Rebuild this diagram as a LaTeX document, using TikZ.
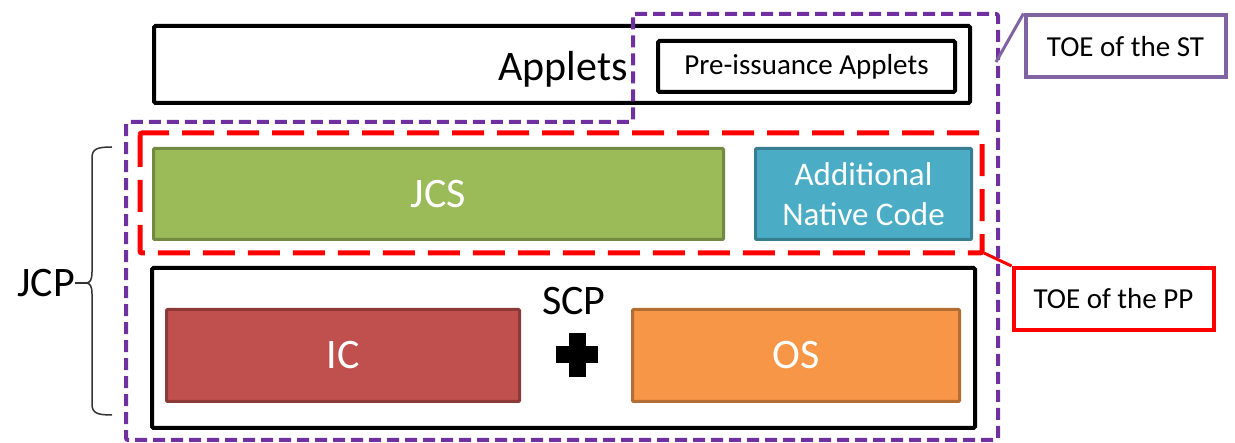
\documentclass[tikz,border=0pt]{standalone}
\usepackage{fontspec}
\setmainfont{Carlito}
\usepackage{tikz}
\usetikzlibrary{positioning}

\definecolor{stpurple}{HTML}{7030A0}
\definecolor{calpurple}{HTML}{8064A2}
\definecolor{jcsgreen}{HTML}{9BBB59}
\definecolor{ancblue}{HTML}{4BACC6}
\definecolor{icred}{HTML}{C0504D}
\definecolor{osorange}{HTML}{F79646}

\newcommand{\fntL}{\fontsize{42}{50}\selectfont}
\newcommand{\fntM}{\fontsize{33}{40}\selectfont}
\newcommand{\fntS}{\fontsize{29}{34}\selectfont}

\tikzset{
	layer/.style={draw=black, line width=4pt, rounded corners=1.5pt, inner sep=0pt},
	comp/.style={draw=#1!73!black, fill=#1, line width=3pt, rounded corners=1pt, inner sep=0pt, text=white, font=\fntL},
	toe/.style={draw=#1, line width=4pt, inner sep=0pt, minimum width=200pt, minimum height=62pt, font=\fntS},
	stline/.style={draw=stpurple, line width=4pt, dash pattern=on 12pt off 6pt, rounded corners=2pt},
	ppline/.style={draw=red, line width=5pt, dash pattern=on 32pt off 13pt, rounded corners=2pt},
}

\begin{document}
\begin{tikzpicture}[x=1pt, y=-1pt]
	\useasboundingbox (0,0) rectangle (1235,443);

	% applets layer
	\node[layer, minimum width=816pt, minimum height=77pt] (applets) at (562,64.5) {};
	\node[layer, minimum width=297pt, minimum height=51pt, font=\fntS] (pre) at (806.5,66.5) {Pre-issuance Applets};
	\node[anchor=east, font=\fntL, inner sep=0pt] (appl) at (628,69) {Applets};

	% JCS and native code
	\node[comp=jcsgreen, minimum width=570pt, minimum height=91pt] (jcs) at (438.5,194) {JCS};
	\node[comp=ancblue, minimum width=216pt, minimum height=91pt, right=29pt of jcs, font=\fntM, align=center] (anc) {Additional\\Native Code};

	% SCP
	\node[layer, minimum width=823pt, minimum height=160pt] (scp) at (563.5,348) {};
	\node[font=\fntL, inner sep=0pt] (scpl) at (574,301) {SCP};
	\node[comp=icred, minimum width=353pt, minimum height=92pt] (ic) at (343,355.5) {IC};
	\node[comp=osorange, minimum width=327pt, minimum height=92pt, right=110pt of ic] (os) {OS};
	\coordinate (plus) at (577,355);
	\fill ([shift={(-21,-8.5)}]plus) rectangle ([shift={(21,8.5)}]plus);
	\fill ([shift={(-8.5,-22)}]plus) rectangle ([shift={(8.5,22)}]plus);

	% TOE boundaries
	\draw[stline] (633,14) -- (998,14) -- (998,440) -- (126,440) -- (126,122) -- (633,122) -- cycle;
	\draw[ppline] (140,133) rectangle (982,253);

	% callouts
	\node[toe=calpurple] (stbox) at (1125.5,46.5) {TOE of the ST};
	\node[toe=red] (ppbox) at (1113.5,299) {TOE of the PP};
	\coordinate (stpt) at (996,62);
	\coordinate (pppt) at (984,253);
	\draw[calpurple, line width=3pt] (stbox.north west) -- (stpt);
	\draw[red, line width=3pt] (pppt) -- (ppbox.north west);

	% JCP brace
	\node[anchor=east, font=\fntL, inner sep=0pt] (jcp) at (75,283) {JCP};
	\coordinate (jt) at (112,147);
	\coordinate (jb) at (112,415);
	\coordinate (jtip) at (86,283);
	\draw[black!80, line width=1.5pt] (jt) .. controls (97,147) and (92,149) .. (92,158) -- (92,272)
		.. controls (92,280) and (90,283) .. (jtip)
		.. controls (90,283) and (92,286) .. (92,294) -- (92,404)
		.. controls (92,413) and (97,415) .. (jb);
	\draw[black!80, line width=1.5pt] (jtip) -- (jcp.east);
\end{tikzpicture}
\end{document}
